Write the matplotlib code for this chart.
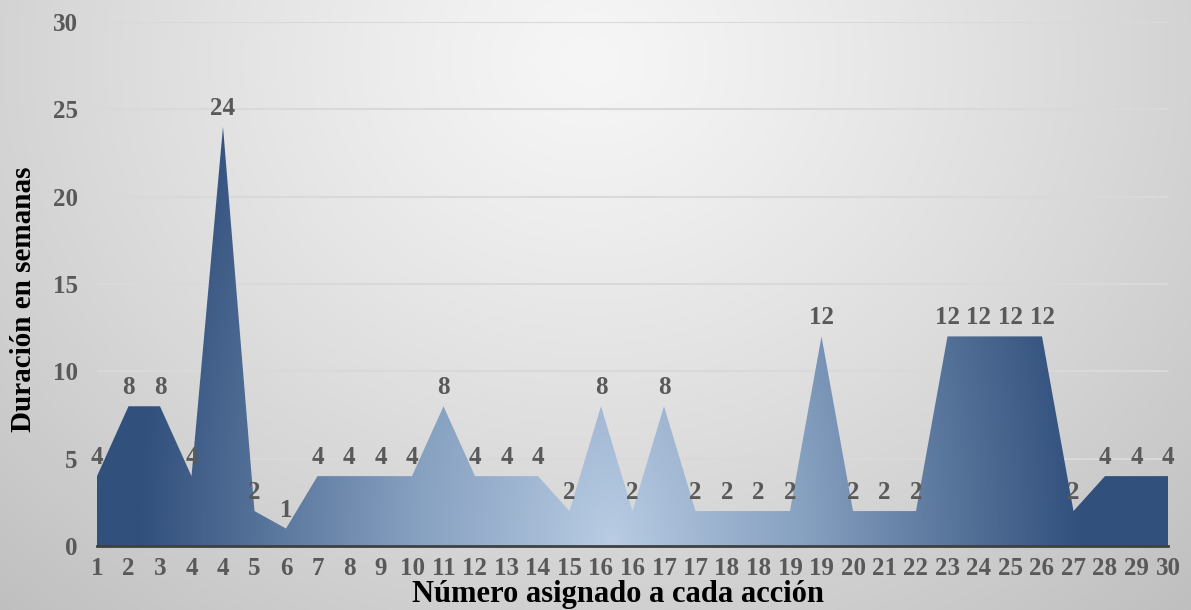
import numpy as np
import matplotlib
matplotlib.use("Agg")
import matplotlib.pyplot as plt
from matplotlib.colors import LinearSegmentedColormap

# data
acciones = ["1", "2", "3", "4", "4", "5", "6", "7", "8", "9", "10", "11", "12",
            "13", "14", "15", "16", "16", "17", "17", "18", "18", "19", "19",
            "20", "21", "22", "23", "24", "25", "26", "27", "28", "29", "30"]
semanas = [4, 8, 8, 4, 24, 2, 1, 4, 4, 4, 4, 8, 4, 4, 4, 2, 8, 2, 8, 2, 2, 2,
           2, 12, 2, 2, 2, 12, 12, 12, 12, 2, 4, 4, 4]

plt.rcParams['font.family'] = ['Liberation Serif', 'DejaVu Serif']
plt.rcParams['font.weight'] = 'bold'

fig = plt.figure(figsize=(11.91, 6.10), dpi=100)

# gray radial background
bg = fig.add_axes([0, 0, 1, 1], zorder=0)
W, H = 1191, 610
yy, xx = np.mgrid[0:H, 0:W]
t = np.sqrt(((xx - 590) / 700.0) ** 2 + ((yy - 60) / 600.0) ** 2)
v = np.clip(246 - 42 * t ** 1.2, 0, 255) / 255.0
bg.imshow(np.dstack([v, v, v]), extent=[0, 1, 0, 1], aspect='auto', origin='upper')
bg.axis('off')

ax = fig.add_axes([97 / W, 64 / H, 1071 / W, 524 / H], zorder=1)
ax.patch.set_alpha(0)

x = np.arange(len(semanas))

# gradient fill clipped to the area
poly = ax.fill_between(x, semanas, 0, facecolor='none', edgecolor='none')
gx, gy = np.meshgrid(np.linspace(0, 34, 400), np.linspace(0, 30, 300))
tg = np.sqrt(((gx - 16.3) / 15.0) ** 2 + (gy / 45.0) ** 2)
tg = np.clip(tg, 0, 1) ** 0.9
cmap = LinearSegmentedColormap.from_list(
    'azul', [(0, '#bacde4'), (0.45, '#87a1c1'), (1, '#31507c')])
im = ax.imshow(tg, extent=[0, 34, 0, 30], origin='lower', aspect='auto',
               cmap=cmap, vmin=0, vmax=1, zorder=2)
im.set_clip_path(poly.get_paths()[0], transform=ax.transData)

for xi, val in zip(x, semanas):
    ax.annotate(str(val), (xi, val), xytext=(0, 5), textcoords='offset points',
                ha='center', va='bottom', fontsize=18, fontweight='bold',
                color='#595959', zorder=4)

ax.set_xlim(0, len(semanas) - 1)
ax.set_ylim(0, 30)
ax.set_yticks(range(0, 31, 5))
ax.set_xticks(x)
ax.set_xticklabels(acciones)
ax.grid(axis='y', color='#d9d9d9', linewidth=1.5, zorder=0)
ax.set_axisbelow(True)
for s in ['top', 'right', 'left']:
    ax.spines[s].set_visible(False)
ax.spines['bottom'].set_color('#404040')
ax.spines['bottom'].set_linewidth(2)
ax.spines['bottom'].set_zorder(5)
ax.tick_params(axis='both', length=0, labelsize=18, labelcolor='#595959')
ax.tick_params(axis='y', pad=14)
ax.tick_params(axis='x', pad=8)

ax.set_xlabel('Número asignado a cada acción', fontsize=22, fontweight='bold',
              color='black')
ax.xaxis.set_label_coords(0.486, -0.064)
ax.set_ylabel('Duración en semanas', fontsize=21, fontweight='bold',
              color='black')
ax.yaxis.set_label_coords(-0.056, 0.47)

fig.savefig('out.png', dpi=100)
